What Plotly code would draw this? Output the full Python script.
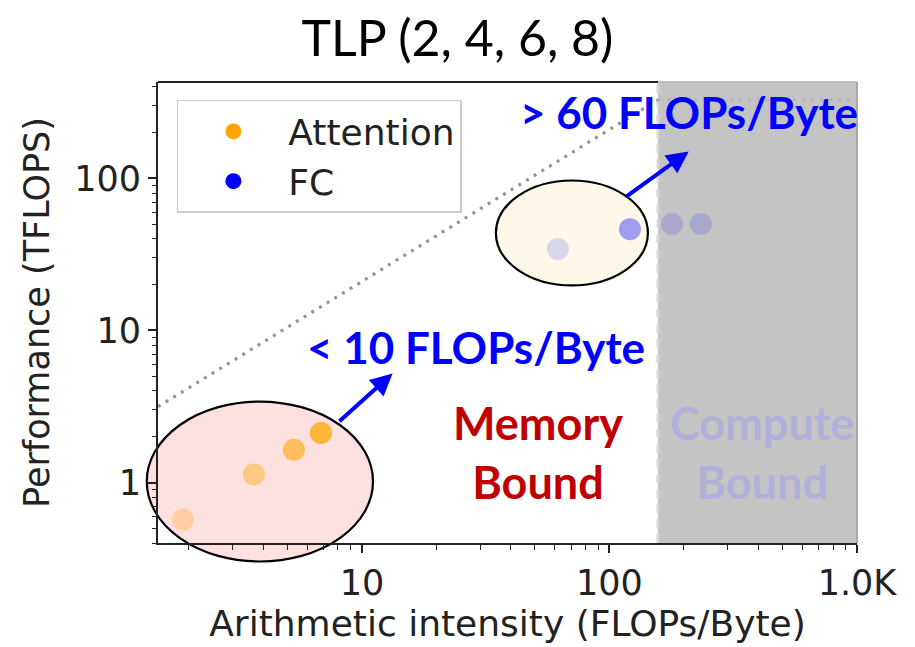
import math
import plotly.graph_objects as go

# ---- data -------------------------------------------------------------
# Attention kernels (TLP 2, 4, 6, 8)
attn_intensity = [1.89, 3.66, 5.31, 6.83]      # FLOPs/Byte
attn_tflops = [0.57, 1.13, 1.64, 2.12]         # TFLOPS
attn_alpha = [0.28, 0.42, 0.58, 0.75]

# Fully-connected kernels (TLP 2, 4, 6, 8)
fc_intensity = [61.9, 121, 179, 234]
fc_tflops = [34.4, 46.4, 50.1, 50.1]
fc_alpha = [0.14, 0.37, 0.14, 0.14]

# Roofline parameters
peak_tflops = 330.0
mem_bw = 2.1                      # TB/s
ridge = peak_tflops / mem_bw      # FLOPs/Byte

x_min, x_max = 1.5, 1000.0
y_min, y_max = 0.4, 431.0

x_tick_vals = [10, 100, 1000]
x_tick_text = ["10", "100", "1.0K"]
y_tick_vals = [1, 10, 100]
y_tick_text = ["1", "10", "100"]

lx0, lx1 = math.log10(x_min), math.log10(x_max)
ly0, ly1 = math.log10(y_min), math.log10(y_max)


def px(v):
    return (math.log10(v) - lx0) / (lx1 - lx0)


def py(v):
    return (math.log10(v) - ly0) / (ly1 - ly0)


def minor_ticks(lo, hi):
    vals = []
    d = 10 ** math.floor(math.log10(lo))
    while d <= hi:
        for k in range(2, 10):
            v = k * d
            if lo <= v <= hi:
                vals.append(v)
        d *= 10
    return vals


fig = go.Figure()

# compute-bound region
fig.add_trace(go.Scatter(
    x=[ridge, x_max, x_max, ridge, ridge],
    y=[y_min, y_min, y_max, y_max, y_min],
    fill="toself", fillcolor="#c4c4c4", mode="lines",
    line=dict(width=0), hoverinfo="skip", showlegend=False))

# ridge marker
fig.add_trace(go.Scatter(
    x=[ridge, ridge], y=[y_min, y_max], mode="lines",
    line=dict(color="#d6d6d6", width=3, dash="9px,6px"),
    hoverinfo="skip", showlegend=False))

# memory roof
fig.add_trace(go.Scatter(
    x=[x_min, ridge], y=[mem_bw * x_min, peak_tflops], mode="lines",
    line=dict(color="#959595", width=3.2, dash="3px,6px"),
    hoverinfo="skip", showlegend=False))
# compute roof
fig.add_trace(go.Scatter(
    x=[ridge, x_max], y=[peak_tflops, peak_tflops], mode="lines",
    line=dict(color="#b5b5b5", width=3, dash="3px,6px"),
    hoverinfo="skip", showlegend=False))

# measured points
fig.add_trace(go.Scatter(
    x=attn_intensity, y=attn_tflops, mode="markers",
    marker=dict(size=22, color=[f"rgba(255,165,0,{a})" for a in attn_alpha],
                line=dict(width=0)),
    showlegend=False, name="Attention"))
fig.add_trace(go.Scatter(
    x=fc_intensity, y=fc_tflops, mode="markers",
    marker=dict(size=22, color=[f"rgba(0,0,255,{a})" for a in fc_alpha],
                line=dict(width=0)),
    showlegend=False, name="FC"))

# legend entries
fig.add_trace(go.Scatter(x=[None], y=[None], mode="markers", name="Attention",
                         marker=dict(size=22, color="#ffa500")))
fig.add_trace(go.Scatter(x=[None], y=[None], mode="markers", name="FC",
                         marker=dict(size=22, color="#0000ff")))

shapes = []
# highlight ellipses (center value, half-extent in decades)
for cx, cy, hx, hy, fill in [
        (3.87, 1.015, 0.457, 0.526, "#fde0e0"),
        (70.5, 43.8, 0.307, 0.345, "#fdf8e7")]:
    lcx, lcy = math.log10(cx), math.log10(cy)
    shapes.append(dict(
        type="circle", xref="paper", yref="paper", layer="below",
        x0=(lcx - hx - lx0) / (lx1 - lx0), x1=(lcx + hx - lx0) / (lx1 - lx0),
        y0=(lcy - hy - ly0) / (ly1 - ly0), y1=(lcy + hy - ly0) / (ly1 - ly0),
        fillcolor=fill, line=dict(color="black", width=2.2)))

# frame: black top edge over the memory-bound part, grey edges over the shaded part
shapes.append(dict(type="line", xref="paper", yref="paper", layer="above",
                   x0=0, x1=px(ridge), y0=1, y1=1,
                   line=dict(color="#222222", width=2)))
shapes.append(dict(type="line", xref="paper", yref="paper", layer="above",
                   x0=px(ridge), x1=1, y0=1, y1=1,
                   line=dict(color="#bdbdbd", width=2)))
shapes.append(dict(type="line", xref="paper", yref="paper", layer="above",
                   x0=1, x1=1, y0=0, y1=1,
                   line=dict(color="#a9a9a9", width=2)))

annotations = []
# arrows (tail -> head)
for (tx, ty), (hx_, hy_) in [((8.0, 2.48), (13.3, 5.21)),
                             ((115.6, 75.0), (209.0, 150.6))]:
    annotations.append(dict(
        x=math.log10(hx_), y=math.log10(hy_), xref="x", yref="y",
        ax=math.log10(tx), ay=math.log10(ty), axref="x", ayref="y",
        text="", showarrow=True, arrowhead=2, arrowsize=1.1, arrowwidth=4,
        arrowcolor="#0000ff", standoff=0, startstandoff=0))

bold = dict(family="Lato", size=44, color="#0000ff", weight="bold")
annotations.append(dict(x=math.log10(28.9), y=math.log10(7.73), xref="x", yref="y",
                        text="< 10 FLOPs/Byte", showarrow=False, font=bold))
annotations.append(dict(x=math.log10(209), y=math.log10(272), xref="x", yref="y",
                        text="> 60 FLOPs/Byte", showarrow=False, font=bold))
annotations.append(dict(x=math.log10(51.4), y=math.log10(1.57), xref="x", yref="y",
                        text="Memory<br>Bound", showarrow=False,
                        font=dict(family="Lato", size=45, color="#c00000", weight="bold")))
annotations.append(dict(x=math.log10(413), y=math.log10(1.57), xref="x", yref="y",
                        text="Compute<br>Bound", showarrow=False,
                        font=dict(family="Lato", size=45, color="#b0b0d8", weight="bold")))

tick_font = dict(family="DejaVu Sans", size=35, color="#222222")
title_font = dict(family="DejaVu Sans", size=36, color="#222222")

fig.update_layout(
    width=915, height=647,
    margin=dict(l=158, r=58, t=82, b=104),
    paper_bgcolor="white", plot_bgcolor="white",
    title=dict(text="TLP (2, 4, 6, 8)", x=0.5, xref="container", xanchor="center",
               y=0.94, yref="container", yanchor="middle",
               font=dict(family="Lato", size=50, color="black")),
    shapes=shapes, annotations=annotations,
    legend=dict(x=0.027, y=0.961, xanchor="left", yanchor="top",
                bgcolor="white", bordercolor="#cccccc", borderwidth=1.5,
                font=dict(family="DejaVu Sans", size=36, color="#222222"),
                itemwidth=100),
    xaxis=dict(type="log", range=[lx0, lx1], showgrid=False, zeroline=False,
               showline=True, linecolor="#222222", linewidth=2, mirror=False,
               tickmode="array", tickvals=x_tick_vals, ticktext=x_tick_text,
               ticks="outside", ticklen=8, tickwidth=1.6, tickcolor="#222222",
               tickfont=tick_font,
               minor=dict(tickmode="array", tickvals=minor_ticks(x_min, x_max),
                          ticks="outside", ticklen=4.5, tickwidth=1.2,
                          tickcolor="#222222", showgrid=False),
               title=dict(text="Arithmetic intensity (FLOPs/Byte)", font=title_font,
                          standoff=8)),
    yaxis=dict(type="log", range=[ly0, ly1], showgrid=False, zeroline=False,
               showline=True, linecolor="#222222", linewidth=2, mirror=False,
               tickmode="array", tickvals=y_tick_vals, ticktext=y_tick_text,
               ticks="outside", ticklen=8, tickwidth=1.6, tickcolor="#222222",
               tickfont=tick_font,
               minor=dict(tickmode="array", tickvals=minor_ticks(y_min, y_max),
                          ticks="outside", ticklen=4.5, tickwidth=1.2,
                          tickcolor="#222222", showgrid=False),
               title=dict(text="Performance (TFLOPS)", font=tick_font, standoff=14)),
)

fig.write_html("out.html")
